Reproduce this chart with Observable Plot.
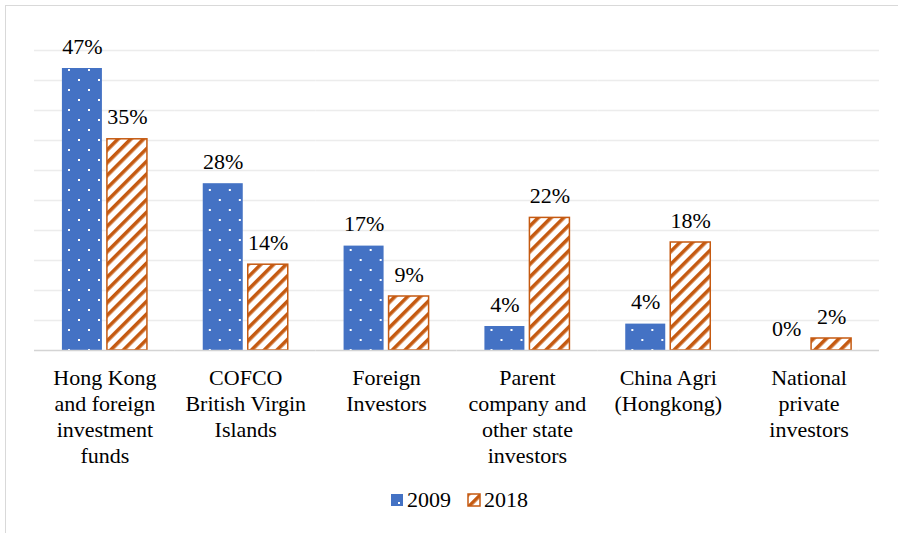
<!DOCTYPE html>
<html>
<head>
<meta charset="utf-8">
<script src="https://cdn.jsdelivr.net/npm/d3@7"></script>
<script src="https://cdn.jsdelivr.net/npm/@observablehq/plot@0.6"></script>
<style>
  html, body { margin: 0; padding: 0; background: #fff; overflow: hidden; }
  #wrap { position: relative; width: 898px; height: 533px; overflow: hidden; font-family: "Times New Roman", Tinos, "Liberation Serif", "DejaVu Serif", serif; }
  #frame { position: absolute; left: 5px; top: 5px; width: 1000px; height: 1000px; border: 1.5px solid #d9d9d9; box-sizing: border-box; }
  #chart { position: absolute; left: 0; top: 0; }
  .leg { position: absolute; font-size: 22px; line-height: 22px; color: #000; font-family: "Times New Roman", Tinos, "Liberation Serif", "DejaVu Serif", serif; }
  .sw { position: absolute; }
</style>
</head>
<body>
<svg width="0" height="0" style="position:absolute">
  <defs>
    <pattern id="dots" patternUnits="userSpaceOnUse" width="20" height="20" x="8" y="9">
      <rect width="20" height="20" fill="#4472c4"></rect>
      <rect x="0" y="0" width="2" height="2" fill="#ffffff"></rect>
      <rect x="10" y="10" width="2" height="2" fill="#ffffff"></rect>
    </pattern>
    <pattern id="hatch" patternUnits="userSpaceOnUse" width="9" height="9" patternTransform="rotate(45)">
      <rect width="9" height="9" fill="#ffffff"></rect>
      <rect x="0" y="0" width="3.6" height="9" fill="#c55a11"></rect>
    </pattern>
  </defs>
</svg>
<div id="wrap">
  <div id="frame"></div>
  <div id="chart"></div>
</div>
<script>
const categories = [
  "Hong Kong\nand foreign\ninvestment\nfunds",
  "COFCO\nBritish Virgin\nIslands",
  "Foreign\nInvestors",
  "Parent\ncompany and\nother state\ninvestors",
  "China Agri\n(Hongkong)",
  "National\nprivate\ninvestors"
];
const years = ["2009", "2018"];
const values2009 = [47, 27.8, 17.4, 4.0, 4.4, 0];
const values2018 = [35.2, 14.3, 9.0, 22.1, 18.0, 2.0];
const labels2009 = ["47%", "28%", "17%", "4%", "4%", "0%"];
const labels2018 = ["35%", "14%", "9%", "22%", "18%", "2%"];
const gridTicks = [5, 10, 15, 20, 25, 30, 35, 40, 45, 50];

const orange = "#c55a11";
const serif = "'Times New Roman', Tinos, 'Liberation Serif', 'DejaVu Serif', serif";
const data = categories.flatMap((c, i) => [
  {cat: c, year: years[0], value: values2009[i], label: labels2009[i]},
  {cat: c, year: years[1], value: values2018[i], label: labels2018[i]}
]);

const chart = Plot.plot({
  width: 898,
  height: 533,
  marginTop: 50,
  marginBottom: 183,
  marginLeft: 34,
  marginRight: 19,
  style: {fontFamily: serif, fontSize: "22px", color: "#000", background: "transparent"},
  fx: {domain: categories, padding: 0, round: false, axis: null},
  x: {domain: years, paddingInner: 0.111, paddingOuter: 0.62, round: false, axis: null},
  y: {domain: [0, 50], axis: null},
  marks: [
    Plot.ruleY(gridTicks, {stroke: "#ececec", strokeWidth: 1.5}),
    Plot.barY(data.filter(d => d.year === years[0]), {fx: "cat", x: "year", y: "value", fill: "url(#dots)"}),
    Plot.barY(data.filter(d => d.year === years[1]), {fx: "cat", x: "year", y: "value", fill: "url(#hatch)", stroke: orange, strokeWidth: 1.5}),
    Plot.ruleY([0], {stroke: "#d4d4d4", strokeWidth: 1.5}),
    Plot.text(data, {fx: "cat", x: "year", y: "value", text: "label", dy: -22, fontSize: 22, fill: "#000", fontFamily: serif}),
    Plot.text(categories, {fx: d => d, text: d => d, frameAnchor: "bottom", lineAnchor: "top", dy: 16, fontSize: 22, lineHeight: 1.18, fill: "#000", fontFamily: serif})
  ]
});
document.getElementById("chart").appendChild(chart);

// legend
const wrap = document.getElementById("wrap");
const legendItems = [
  {year: years[0], fill: "url(#dots)", stroke: "none", sx: 391, tx: 407},
  {year: years[1], fill: "url(#hatch)", stroke: orange, sx: 468, tx: 484}
];
legendItems.forEach(it => {
  const ns = "http://www.w3.org/2000/svg";
  const s = document.createElementNS(ns, "svg");
  s.setAttribute("class", "sw");
  s.setAttribute("width", 14);
  s.setAttribute("height", 14);
  s.style.left = (it.sx - 1) + "px";
  s.style.top = "493px";
  const r = document.createElementNS(ns, "rect");
  r.setAttribute("x", 1); r.setAttribute("y", 1);
  r.setAttribute("width", 12); r.setAttribute("height", 12);
  r.setAttribute("fill", it.fill);
  r.setAttribute("stroke", it.stroke);
  r.setAttribute("stroke-width", 1.5);
  s.appendChild(r);
  wrap.appendChild(s);
  const t = document.createElement("div");
  t.className = "leg";
  t.textContent = it.year;
  t.style.left = it.tx + "px";
  t.style.top = "489px";
  wrap.appendChild(t);
});
</script>
</body>
</html>
